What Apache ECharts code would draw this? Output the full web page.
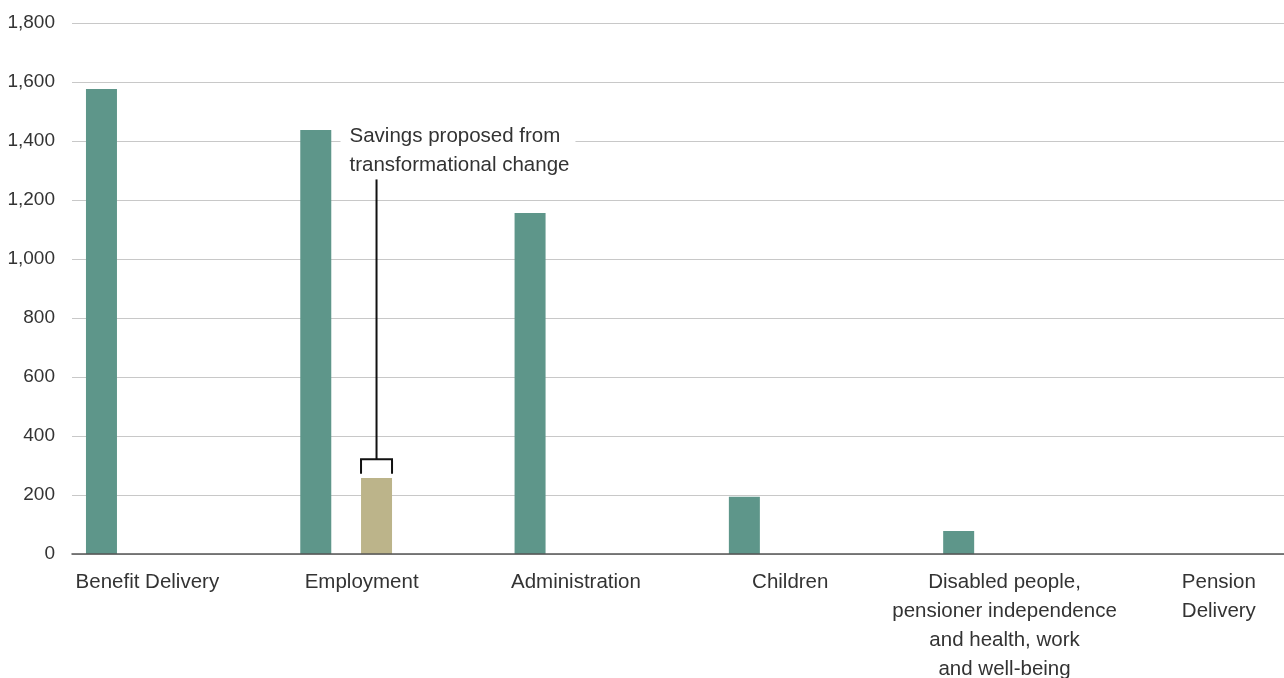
<!DOCTYPE html>
<html>
<head>
<meta charset="utf-8">
<script src="https://cdn.jsdelivr.net/npm/echarts@6/dist/echarts.min.js"></script>
<style>
  html, body { margin: 0; padding: 0; background: #fff; }
  #chart { width: 1284px; height: 678px; }
</style>
</head>
<body>
<div id="chart"></div>
<script>
// Spending areas and their values (£ million)
const categories = [
  'Benefit Delivery',
  'Employment',
  'Administration',
  'Children',
  'Disabled people,\npensioner independence\nand health, work\nand well-being',
  'Pension\nDelivery'
];
const spending = [1576, 1437, 1156, 194, 78, 0];
const savings = ['-', 258, '-', '-', '-', '-'];

// Value axis range
const yMin = 0;
const yMax = 1800;
const yInterval = 200;

// Callout: category index, bracket top, bracket foot, leader top, caption
const calloutCategory = [1];
const calloutBracketTop = [321];
const calloutBracketFoot = [272];
const calloutLeaderTop = [1270];
const calloutText = 'Savings proposed from\ntransformational change';

// Styling / layout
const GREEN = '#5e968a';
const TAN = '#bcb48a';
const TEXT = '#333333';
const FONT = "'Liberation Sans', Arial, Helvetica, sans-serif";
const TOP = 23;
const BOTTOM = 124;
const BAR_WIDTH = 31;
const BAR_GAP_PCT = 96;
const SLOT_OFFSET = (BAR_WIDTH + BAR_WIDTH * BAR_GAP_PCT / 100) / 2;

const chart = echarts.init(document.getElementById('chart'), null, { renderer: 'canvas' });

const calloutData = calloutCategory.map((c, i) => [
  c, calloutBracketTop[i], calloutBracketFoot[i], calloutLeaderTop[i]
]);

const option = {
  backgroundColor: '#ffffff',
  animation: false,
  textStyle: { fontFamily: FONT },
  grid: [
    // frame grid: gridlines, value labels and baseline
    { left: 72, right: 0, top: TOP, bottom: BOTTOM, outerBoundsMode: 'none', containLabel: false },
    // bar grid: category slots (extends slightly past the frame on both sides)
    { left: 24.7, width: 1285.8, top: TOP, bottom: BOTTOM, outerBoundsMode: 'none', containLabel: false }
  ],
  xAxis: [
    {
      gridIndex: 0,
      type: 'category',
      data: categories,
      axisLine: { show: true, lineStyle: { color: '#555555', width: 1.5 } },
      axisTick: { show: false },
      axisLabel: { show: false },
      splitLine: { show: false },
      z: 5
    },
    {
      gridIndex: 1,
      type: 'category',
      data: categories,
      axisLine: { show: false },
      axisTick: { show: false },
      splitLine: { show: false },
      axisLabel: {
        interval: 0,
        color: TEXT,
        fontSize: 20.5,
        fontFamily: FONT,
        lineHeight: 29,
        margin: 14,
        align: 'center',
        padding: [0, 0, 0, 31]
      }
    }
  ],
  yAxis: [
    {
      gridIndex: 0,
      type: 'value',
      min: yMin,
      max: yMax,
      interval: yInterval,
      axisLine: { show: false },
      axisTick: { show: false },
      axisLabel: {
        color: TEXT,
        fontSize: 19,
        fontFamily: FONT,
        margin: 17,
        formatter: v => v.toLocaleString('en-US')
      },
      splitLine: { show: true, lineStyle: { color: '#c8c8c8', width: 1 } }
    },
    {
      gridIndex: 1,
      type: 'value',
      min: yMin,
      max: yMax,
      interval: yInterval,
      show: false,
      splitLine: { show: false }
    }
  ],
  series: [
    {
      name: 'Spending',
      type: 'bar',
      xAxisIndex: 1,
      yAxisIndex: 1,
      data: spending,
      barWidth: BAR_WIDTH,
      barGap: BAR_GAP_PCT + '%',
      itemStyle: { color: GREEN }
    },
    {
      name: 'Savings',
      type: 'bar',
      xAxisIndex: 1,
      yAxisIndex: 1,
      data: savings,
      barWidth: BAR_WIDTH,
      barGap: BAR_GAP_PCT + '%',
      itemStyle: { color: TAN }
    },
    {
      name: 'Callout',
      type: 'custom',
      xAxisIndex: 1,
      yAxisIndex: 1,
      data: calloutData,
      encode: { x: 0, y: [1, 2, 3] },
      z: 10,
      silent: true,
      renderItem: function (params, api) {
        const cat = api.value(0);
        const top = api.coord([cat, api.value(1)]);
        const foot = api.coord([cat, api.value(2)]);
        const lead = api.coord([cat, api.value(3)]);
        const cx = top[0] + SLOT_OFFSET;
        const half = BAR_WIDTH / 2;
        return {
          type: 'group',
          children: [
            {
              type: 'polyline',
              shape: {
                points: [
                  [cx - half, foot[1]],
                  [cx - half, top[1]],
                  [cx + half, top[1]],
                  [cx + half, foot[1]]
                ]
              },
              style: { stroke: '#111111', lineWidth: 2, fill: null }
            },
            {
              type: 'line',
              shape: { x1: cx, y1: top[1], x2: cx, y2: lead[1] },
              style: { stroke: '#111111', lineWidth: 2 }
            },
            {
              type: 'text',
              x: cx - 36,
              y: lead[1],
              style: {
                text: calloutText,
                fill: TEXT,
                font: '20.5px ' + FONT,
                lineHeight: 29,
                align: 'left',
                verticalAlign: 'bottom',
                backgroundColor: '#ffffff',
                padding: [0, 6, 0, 9]
              }
            }
          ]
        };
      }
    }
  ]
};

chart.setOption(option);
</script>
</body>
</html>
